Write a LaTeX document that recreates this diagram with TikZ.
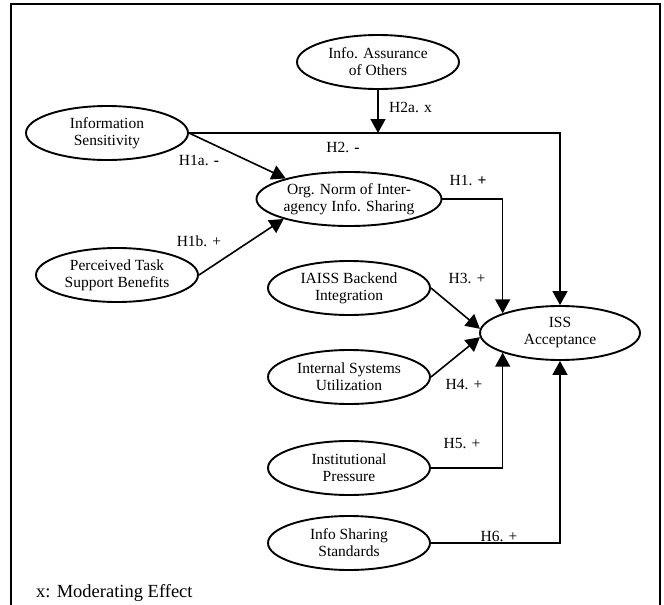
\documentclass[tikz,border=0pt]{standalone}
\usepackage{fontspec}
\setmainfont{Liberation Serif}
\usetikzlibrary{arrows.meta,shapes.geometric}
\begin{document}
\begin{tikzpicture}[x=1pt,y=-1pt,
  construct/.style={draw,line width=1.9pt,ellipse,minimum width=162pt,minimum height=54pt,inner sep=0pt,align=center,font=\fontsize{15.5}{17}\selectfont},
  conn/.style={line width=1.6pt,-{Triangle[length=14pt,width=15pt]}},
  hyp/.style={inner sep=0pt,font=\fontsize{15.5}{17}\selectfont}]
\useasboundingbox (0,0) rectangle (664,605);
\draw[line width=2.2pt] (11,607) -- (11,4) -- (660,4) -- (660,607);

\node[construct] (ia) at (378,62) {Info. Assurance\\of Others};
\node[construct] (is) at (107,133) {Information\\Sensitivity};
\node[construct] (on) at (349,199) {Org. Norm of Inter-\\agency Info. Sharing};
\node[construct] (pt) at (117,275) {Perceived Task\\Support Benefits};
\node[construct] (ib) at (349,288) {IAISS Backend\\Integration};
\node[construct,minimum width=160pt] (iss) at (560,333) {ISS\\Acceptance};
\node[construct] (isu) at (349,377) {Internal Systems\\Utilization};
\node[construct] (ip) at (349,468) {Institutional\\Pressure};
\node[construct] (ist) at (349,543) {Info Sharing\\Standards};

\draw[conn] (is.east) -| (iss.north);
\draw[conn] (ia.south) -- (ia.south |- is.east);
\draw[conn] (is.east) -- (on.162);
\draw[conn] (pt.east) -- (on.197);
\draw[conn] (on.east) -| (iss.161);
\draw[conn] (ib.east) -- (iss.177);
\draw[conn] (isu.east) -- (iss.183);
\draw[conn] (ip.east) -| (iss.199);
\draw[conn] (ist.east) -| (iss.south);

\node[hyp] (l1a) at (199,160) {H1a. \textbf{-}};
\node[hyp] (l1b) at (199,241) {H1b. +};
\node[hyp,anchor=west] (l2a) at (389,107) {H2a. x};
\node[hyp] (l2) at (343,147) {H2. \textbf{-}};
\node[hyp] (l1) at (468,180) {H1. \textbf{+}};
\node[hyp] (l3) at (467,278) {H3. +};
\node[hyp] (l4) at (464,385) {H4. +};
\node[hyp] (l5) at (462,444) {H5. +};
\node[hyp] (l6) at (499,536) {H6. +};
\node[anchor=west,inner sep=0pt,font=\fontsize{18.5}{20}\selectfont] (note) at (36,593) {x: Moderating Effect};
\end{tikzpicture}
\end{document}
